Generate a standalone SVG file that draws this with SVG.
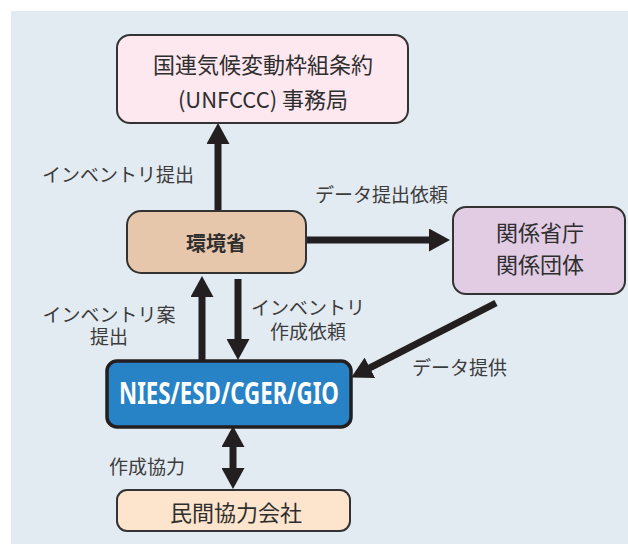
<svg xmlns="http://www.w3.org/2000/svg" width="628" height="545" viewBox="0 0 628 545">
  <defs>
    <marker id="ah" markerUnits="userSpaceOnUse" markerWidth="22" markerHeight="23" refX="10" refY="11.5" orient="auto-start-reverse" viewBox="0 0 22 23">
      <path d="M0,0 L21,11.5 L0,23 Z" fill="#231f20"/>
    </marker>
    <style>
      .box { stroke: #333333; stroke-width: 2; }
      .lbl { font-family: "Noto Sans CJK JP", "Noto Sans", sans-serif; font-size: 19px; fill: #3c3c3c; }
      .nt { font-family: "Noto Sans CJK JP", "Noto Sans", sans-serif; font-size: 22px; fill: #2e2e2e; text-anchor: middle; }
      .conn { stroke: #231f20; stroke-width: 7; fill: none; marker-end: url(#ah); }
    </style>
  </defs>
  <rect x="11" y="11" width="617" height="533" fill="#e3ebf2"/>

  <g id="connectors">
    <line class="conn" x1="218" y1="211" x2="218" y2="134"/>
    <line class="conn" x1="306" y1="240" x2="439" y2="240"/>
    <line class="conn" x1="202" y1="361" x2="202" y2="287"/>
    <line class="conn" x1="238" y1="279" x2="238" y2="349"/>
    <line class="conn" x1="496" y1="303" x2="361" y2="372.4"/>
    <line class="conn" x1="233" y1="437" x2="233" y2="478" marker-start="url(#ah)"/>
  </g>

  <g id="labels">
    <text class="lbl" x="42" y="182">インベントリ提出</text>
    <text class="lbl" x="315" y="202">データ提出依頼</text>
    <text class="lbl" text-anchor="middle"><tspan x="109" y="322">インベントリ案</tspan><tspan x="109" y="344">提出</tspan></text>
    <text class="lbl" text-anchor="middle"><tspan x="308" y="315">インベントリ</tspan><tspan x="308" y="339">作成依頼</tspan></text>
    <text class="lbl" x="412" y="375">データ提供</text>
    <text class="lbl" x="109" y="474">作成協力</text>
  </g>

  <g id="unfccc">
    <rect class="box" x="117" y="35" width="291" height="88" rx="13" fill="#fde8f0"/>
    <text class="nt"><tspan x="263" y="73">国連気候変動枠組条約</tspan><tspan x="263" y="108">(UNFCCC) 事務局</tspan></text>
  </g>

  <g id="moe">
    <rect class="box" x="127" y="211" width="179" height="62" rx="14" fill="#e6c7ac"/>
    <text class="nt" x="216" y="251" style="font-size:20px;font-weight:bold;">環境省</text>
  </g>

  <g id="ministries">
    <rect class="box" x="453" y="207" width="172" height="87" rx="13" fill="#e1cce4"/>
    <text class="nt"><tspan x="540" y="241">関係省庁</tspan><tspan x="540" y="273">関係団体</tspan></text>
  </g>

  <g id="nies">
    <rect x="107" y="361" width="244" height="66" rx="10" fill="#2783c6" stroke="#231f20" stroke-width="3.5"/>
    <text x="229" y="404" text-anchor="middle" textLength="220" lengthAdjust="spacingAndGlyphs" style="font-family:'Noto Sans','Open Sans',sans-serif;font-size:30px;font-weight:bold;fill:#ffffff;">NIES/ESD/CGER/GIO</text>
  </g>

  <g id="private">
    <rect class="box" x="117" y="490" width="233" height="41" rx="10" fill="#fde4cc"/>
    <text class="nt" x="236" y="521">民間協力会社</text>
  </g>
</svg>
